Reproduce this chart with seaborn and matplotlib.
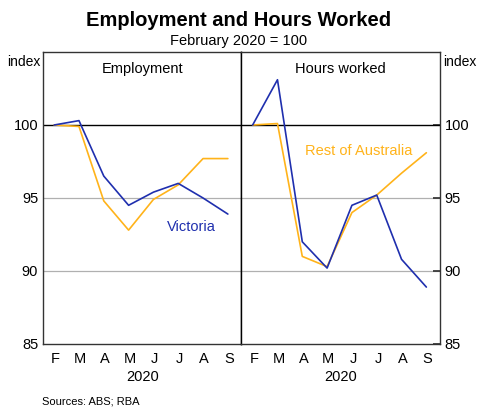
import numpy as np
import pandas as pd
import seaborn as sns
import matplotlib
matplotlib.use("Agg", force=True)
import matplotlib.pyplot as plt

months = ["F", "M", "A", "M", "J", "J", "A", "S"]
panels = ["Employment", "Hours worked"]

emp_vic = [100.0, 100.3, 96.5, 94.5, 95.4, 96.0, 95.0, 93.9]
emp_rest = [100.0, 99.9, 94.8, 92.8, 94.9, 95.9, 97.7, 97.7]
hrs_vic = [100.0, 103.1, 92.0, 90.2, 94.5, 95.2, 90.8, 88.9]
hrs_rest = [100.0, 100.1, 91.0, 90.3, 94.0, 95.2, 96.7, 98.1]

BLUE = "#1f2fae"
ORANGE = "#ffb31a"

rows = []
for panel, vic, rest in [(panels[0], emp_vic, emp_rest), (panels[1], hrs_vic, hrs_rest)]:
    for i in range(len(months)):
        rows.append({"panel": panel, "pos": i + 0.45, "series": "Victoria", "value": vic[i]})
        rows.append({"panel": panel, "pos": i + 0.45, "series": "Rest of Australia", "value": rest[i]})
df = pd.DataFrame(rows)

sns.set_theme(style="white")
plt.rcParams["font.family"] = ["Liberation Sans", "DejaVu Sans"]
plt.rcParams.update({"text.color": "black", "xtick.color": "black", "ytick.color": "black"})

fig = plt.figure(figsize=(4.78, 4.08), dpi=100)
left, right, bottom, top = 43 / 478, 440 / 478, 1 - 344 / 408, 1 - 52 / 408
w = (right - left) / 2
axes = [fig.add_axes([left, bottom, w, top - bottom]),
        fig.add_axes([left + w, bottom, w, top - bottom])]

for k, (ax, panel) in enumerate(zip(axes, panels)):
    for y in [90, 95]:
        ax.axhline(y, color="#b0b0b0", lw=0.9, zorder=0)
    ax.axhline(100, color="black", lw=1.0, zorder=1)
    sub = df[df.panel == panel]
    sns.lineplot(data=sub, x="pos", y="value", hue="series",
                 hue_order=["Rest of Australia", "Victoria"],
                 palette={"Victoria": BLUE, "Rest of Australia": ORANGE},
                 lw=1.2, legend=False, ax=ax, zorder=2)
    ax.set_xlim(0, 8)
    ax.set_ylim(85, 105)
    ax.set_xlabel("")
    ax.set_ylabel("")
    ax.set_xticks(np.arange(1, 8))
    ax.set_xticklabels([])
    ax.set_xticks(np.arange(8) + 0.5, minor=True)
    ax.set_xticklabels(months, minor=True)
    ax.tick_params(axis="x", which="major", direction="in", length=5, color="#333333")
    ax.tick_params(axis="x", which="minor", length=0, labelsize=10.5, pad=6)
    ax.set_yticks([85, 90, 95, 100])
    ax.tick_params(axis="y", direction="in", length=5, labelsize=10.5, color="#333333")
    for s in ax.spines.values():
        s.set_color("#333333")
        s.set_linewidth(1.0)
    ax.text(0.5, 0.965, panel, transform=ax.transAxes, ha="center", va="top", fontsize=10.5)
    if k == 0:
        ax.spines["right"].set_color("black")
    else:
        ax.yaxis.tick_right()
        ax.spines["left"].set_color("black")
    cx = ax.get_position().x0 + w / 2
    fig.text(cx, 1 - 377 / 408, "2020", ha="center", va="center", fontsize=10.5)

fig.text(40 / 478, 1 - 62 / 408, "index", ha="right", va="center", fontsize=10)
fig.text(443 / 478, 1 - 62 / 408, "index", ha="left", va="center", fontsize=10)
axes[0].text(5.0, 93.0, "Victoria", color=BLUE, fontsize=10.5, ha="left", va="center")
axes[1].text(2.55, 98.2, "Rest of Australia", color=ORANGE, fontsize=10.5, ha="left", va="center")

fig.text(0.5, 1 - 20 / 408, "Employment and Hours Worked", ha="center", va="center",
         fontsize=14.5, fontweight="bold")
fig.text(0.5, 1 - 41 / 408, "February 2020 = 100", ha="center", va="center", fontsize=10.5)
fig.text(42 / 478, 1 - 401 / 408, "Sources: ABS; RBA", ha="left", va="center", fontsize=8)

fig.savefig("out.png", dpi=100)
